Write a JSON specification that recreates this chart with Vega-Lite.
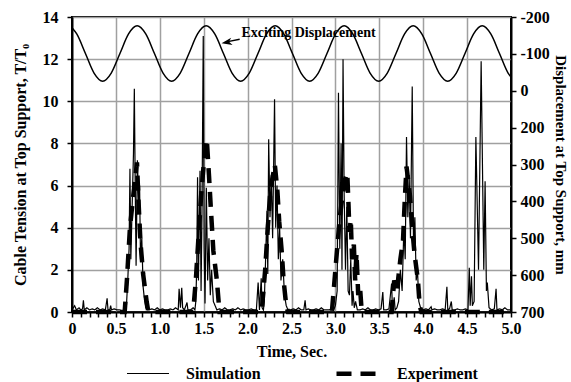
{
  "$schema": "https://vega.github.io/schema/vega-lite/v6.json",
  "width": 439,
  "height": 295,
  "autosize": {"type": "none"},
  "padding": {"left": 72, "top": 17, "right": 60, "bottom": 70},
  "background": "white",
  "datasets": {
    "sine": [
      {"t": 0, "disp": -171}, {"t": 0.054, "disp": -154}, {"t": 0.153, "disp": -101}, {"t": 0.251, "disp": -48},
      {"t": 0.349, "disp": -26}, {"t": 0.447, "disp": -48}, {"t": 0.546, "disp": -101}, {"t": 0.644, "disp": -154},
      {"t": 0.742, "disp": -176}, {"t": 0.84, "disp": -154}, {"t": 0.939, "disp": -101}, {"t": 1.037, "disp": -48},
      {"t": 1.135, "disp": -26}, {"t": 1.233, "disp": -48}, {"t": 1.332, "disp": -101}, {"t": 1.43, "disp": -154},
      {"t": 1.528, "disp": -176}, {"t": 1.626, "disp": -154}, {"t": 1.725, "disp": -101}, {"t": 1.823, "disp": -48},
      {"t": 1.921, "disp": -26}, {"t": 2.019, "disp": -48}, {"t": 2.118, "disp": -101}, {"t": 2.216, "disp": -154},
      {"t": 2.314, "disp": -176}, {"t": 2.412, "disp": -154}, {"t": 2.511, "disp": -101}, {"t": 2.609, "disp": -48},
      {"t": 2.707, "disp": -26}, {"t": 2.805, "disp": -48}, {"t": 2.904, "disp": -101}, {"t": 3.002, "disp": -154},
      {"t": 3.1, "disp": -176}, {"t": 3.198, "disp": -154}, {"t": 3.297, "disp": -101}, {"t": 3.395, "disp": -48},
      {"t": 3.493, "disp": -26}, {"t": 3.591, "disp": -48}, {"t": 3.69, "disp": -101}, {"t": 3.788, "disp": -154},
      {"t": 3.886, "disp": -176}, {"t": 3.984, "disp": -154}, {"t": 4.083, "disp": -101}, {"t": 4.181, "disp": -48},
      {"t": 4.279, "disp": -26}, {"t": 4.377, "disp": -48}, {"t": 4.476, "disp": -101}, {"t": 4.574, "disp": -154},
      {"t": 4.672, "disp": -176}, {"t": 4.77, "disp": -154}, {"t": 4.869, "disp": -101}, {"t": 4.967, "disp": -48},
      {"t": 5.0, "disp": -37}
    ],
    "tension": [
      {"series": "Simulation", "t": 0.0, "v": 0.1}, {"series": "Simulation", "t": 0.03, "v": 0.3}, {"series": "Simulation", "t": 0.05, "v": 0.1},
      {"series": "Simulation", "t": 0.08, "v": 0.2}, {"series": "Simulation", "t": 0.1, "v": 0.1}, {"series": "Simulation", "t": 0.12, "v": 0.15},
      {"series": "Simulation", "t": 0.13, "v": 0.55}, {"series": "Simulation", "t": 0.14, "v": 0.1}, {"series": "Simulation", "t": 0.17, "v": 0.2},
      {"series": "Simulation", "t": 0.2, "v": 0.1}, {"series": "Simulation", "t": 0.23, "v": 0.15}, {"series": "Simulation", "t": 0.26, "v": 0.1},
      {"series": "Simulation", "t": 0.29, "v": 0.2}, {"series": "Simulation", "t": 0.32, "v": 0.1}, {"series": "Simulation", "t": 0.35, "v": 0.15},
      {"series": "Simulation", "t": 0.38, "v": 0.1}, {"series": "Simulation", "t": 0.4, "v": 0.65}, {"series": "Simulation", "t": 0.41, "v": 0.1},
      {"series": "Simulation", "t": 0.43, "v": 0.1}, {"series": "Simulation", "t": 0.44, "v": 0.3}, {"series": "Simulation", "t": 0.45, "v": 0.1},
      {"series": "Simulation", "t": 0.48, "v": 0.15}, {"series": "Simulation", "t": 0.51, "v": 0.1}, {"series": "Simulation", "t": 0.54, "v": 0.1},
      {"series": "Simulation", "t": 0.57, "v": 0.05}, {"series": "Simulation", "t": 0.6, "v": 0.1}, {"series": "Simulation", "t": 0.62, "v": 0.3},
      {"series": "Simulation", "t": 0.635, "v": 1.5}, {"series": "Simulation", "t": 0.65, "v": 3.0}, {"series": "Simulation", "t": 0.66, "v": 6.8},
      {"series": "Simulation", "t": 0.67, "v": 2.5}, {"series": "Simulation", "t": 0.685, "v": 5.0}, {"series": "Simulation", "t": 0.7, "v": 7.5},
      {"series": "Simulation", "t": 0.71, "v": 10.6}, {"series": "Simulation", "t": 0.72, "v": 6.0}, {"series": "Simulation", "t": 0.73, "v": 2.2},
      {"series": "Simulation", "t": 0.745, "v": 7.2}, {"series": "Simulation", "t": 0.76, "v": 5.0}, {"series": "Simulation", "t": 0.77, "v": 6.0},
      {"series": "Simulation", "t": 0.78, "v": 2.5}, {"series": "Simulation", "t": 0.795, "v": 3.5}, {"series": "Simulation", "t": 0.81, "v": 1.2},
      {"series": "Simulation", "t": 0.825, "v": 0.6}, {"series": "Simulation", "t": 0.84, "v": 0.2}, {"series": "Simulation", "t": 0.86, "v": 0.1},
      {"series": "Simulation", "t": 0.88, "v": 0.1}, {"series": "Simulation", "t": 0.91, "v": 0.15}, {"series": "Simulation", "t": 0.94, "v": 0.1},
      {"series": "Simulation", "t": 0.97, "v": 0.2}, {"series": "Simulation", "t": 1.0, "v": 0.1}, {"series": "Simulation", "t": 1.03, "v": 0.15},
      {"series": "Simulation", "t": 1.06, "v": 0.1}, {"series": "Simulation", "t": 1.09, "v": 0.1}, {"series": "Simulation", "t": 1.12, "v": 0.15},
      {"series": "Simulation", "t": 1.15, "v": 0.1}, {"series": "Simulation", "t": 1.18, "v": 0.2}, {"series": "Simulation", "t": 1.21, "v": 0.1},
      {"series": "Simulation", "t": 1.22, "v": 1.1}, {"series": "Simulation", "t": 1.235, "v": 0.2}, {"series": "Simulation", "t": 1.25, "v": 1.15},
      {"series": "Simulation", "t": 1.26, "v": 0.2}, {"series": "Simulation", "t": 1.28, "v": 0.1}, {"series": "Simulation", "t": 1.31, "v": 0.45},
      {"series": "Simulation", "t": 1.32, "v": 0.1}, {"series": "Simulation", "t": 1.35, "v": 0.1}, {"series": "Simulation", "t": 1.38, "v": 0.2},
      {"series": "Simulation", "t": 1.4, "v": 0.1}, {"series": "Simulation", "t": 1.41, "v": 0.5}, {"series": "Simulation", "t": 1.42, "v": 2.0},
      {"series": "Simulation", "t": 1.43, "v": 6.4}, {"series": "Simulation", "t": 1.44, "v": 1.5}, {"series": "Simulation", "t": 1.458, "v": 6.7},
      {"series": "Simulation", "t": 1.47, "v": 1.0}, {"series": "Simulation", "t": 1.48, "v": 4.5}, {"series": "Simulation", "t": 1.495, "v": 13.1},
      {"series": "Simulation", "t": 1.505, "v": 3.0}, {"series": "Simulation", "t": 1.515, "v": 0.4}, {"series": "Simulation", "t": 1.53, "v": 5.9},
      {"series": "Simulation", "t": 1.545, "v": 1.5}, {"series": "Simulation", "t": 1.56, "v": 3.5}, {"series": "Simulation", "t": 1.575, "v": 0.8},
      {"series": "Simulation", "t": 1.59, "v": 2.0}, {"series": "Simulation", "t": 1.61, "v": 0.5}, {"series": "Simulation", "t": 1.63, "v": 0.3},
      {"series": "Simulation", "t": 1.65, "v": 0.1}, {"series": "Simulation", "t": 1.68, "v": 0.15}, {"series": "Simulation", "t": 1.71, "v": 0.1},
      {"series": "Simulation", "t": 1.74, "v": 0.2}, {"series": "Simulation", "t": 1.77, "v": 0.1}, {"series": "Simulation", "t": 1.8, "v": 0.1},
      {"series": "Simulation", "t": 1.83, "v": 0.15}, {"series": "Simulation", "t": 1.86, "v": 0.1}, {"series": "Simulation", "t": 1.89, "v": 0.2},
      {"series": "Simulation", "t": 1.92, "v": 0.1}, {"series": "Simulation", "t": 1.95, "v": 0.15}, {"series": "Simulation", "t": 1.98, "v": 0.1},
      {"series": "Simulation", "t": 2.01, "v": 0.1}, {"series": "Simulation", "t": 2.04, "v": 0.15}, {"series": "Simulation", "t": 2.07, "v": 0.1},
      {"series": "Simulation", "t": 2.1, "v": 0.1}, {"series": "Simulation", "t": 2.12, "v": 1.4}, {"series": "Simulation", "t": 2.135, "v": 0.1},
      {"series": "Simulation", "t": 2.155, "v": 1.6}, {"series": "Simulation", "t": 2.165, "v": 0.2}, {"series": "Simulation", "t": 2.18, "v": 0.1},
      {"series": "Simulation", "t": 2.19, "v": 0.5}, {"series": "Simulation", "t": 2.205, "v": 2.5}, {"series": "Simulation", "t": 2.22, "v": 4.8},
      {"series": "Simulation", "t": 2.23, "v": 1.8}, {"series": "Simulation", "t": 2.24, "v": 8.2}, {"series": "Simulation", "t": 2.255, "v": 4.5},
      {"series": "Simulation", "t": 2.27, "v": 6.5}, {"series": "Simulation", "t": 2.285, "v": 3.5}, {"series": "Simulation", "t": 2.307, "v": 10.1},
      {"series": "Simulation", "t": 2.32, "v": 4.0}, {"series": "Simulation", "t": 2.335, "v": 6.0}, {"series": "Simulation", "t": 2.35, "v": 2.5},
      {"series": "Simulation", "t": 2.365, "v": 4.0}, {"series": "Simulation", "t": 2.38, "v": 1.5}, {"series": "Simulation", "t": 2.4, "v": 2.5},
      {"series": "Simulation", "t": 2.42, "v": 0.8}, {"series": "Simulation", "t": 2.44, "v": 0.3}, {"series": "Simulation", "t": 2.46, "v": 0.1},
      {"series": "Simulation", "t": 2.49, "v": 0.1}, {"series": "Simulation", "t": 2.52, "v": 0.15}, {"series": "Simulation", "t": 2.55, "v": 0.1},
      {"series": "Simulation", "t": 2.58, "v": 0.2}, {"series": "Simulation", "t": 2.61, "v": 0.1}, {"series": "Simulation", "t": 2.64, "v": 0.1},
      {"series": "Simulation", "t": 2.655, "v": 0.55}, {"series": "Simulation", "t": 2.665, "v": 0.1}, {"series": "Simulation", "t": 2.69, "v": 0.15},
      {"series": "Simulation", "t": 2.72, "v": 0.1}, {"series": "Simulation", "t": 2.75, "v": 0.1}, {"series": "Simulation", "t": 2.78, "v": 0.15},
      {"series": "Simulation", "t": 2.81, "v": 0.1}, {"series": "Simulation", "t": 2.84, "v": 0.2}, {"series": "Simulation", "t": 2.87, "v": 0.1},
      {"series": "Simulation", "t": 2.9, "v": 0.1}, {"series": "Simulation", "t": 2.93, "v": 0.1}, {"series": "Simulation", "t": 2.96, "v": 0.15},
      {"series": "Simulation", "t": 2.98, "v": 0.1}, {"series": "Simulation", "t": 3.0, "v": 0.3}, {"series": "Simulation", "t": 3.02, "v": 1.0},
      {"series": "Simulation", "t": 3.035, "v": 10.4}, {"series": "Simulation", "t": 3.05, "v": 3.0}, {"series": "Simulation", "t": 3.065, "v": 8.0},
      {"series": "Simulation", "t": 3.075, "v": 2.0}, {"series": "Simulation", "t": 3.087, "v": 12.0}, {"series": "Simulation", "t": 3.1, "v": 5.5},
      {"series": "Simulation", "t": 3.115, "v": 2.0}, {"series": "Simulation", "t": 3.13, "v": 5.0}, {"series": "Simulation", "t": 3.145, "v": 1.0},
      {"series": "Simulation", "t": 3.16, "v": 0.8}, {"series": "Simulation", "t": 3.175, "v": 2.5}, {"series": "Simulation", "t": 3.19, "v": 0.3},
      {"series": "Simulation", "t": 3.2, "v": 1.0}, {"series": "Simulation", "t": 3.215, "v": 0.2}, {"series": "Simulation", "t": 3.23, "v": 0.5},
      {"series": "Simulation", "t": 3.25, "v": 0.1}, {"series": "Simulation", "t": 3.28, "v": 0.1}, {"series": "Simulation", "t": 3.31, "v": 0.15},
      {"series": "Simulation", "t": 3.34, "v": 0.1}, {"series": "Simulation", "t": 3.37, "v": 0.2}, {"series": "Simulation", "t": 3.4, "v": 0.1},
      {"series": "Simulation", "t": 3.43, "v": 0.1}, {"series": "Simulation", "t": 3.46, "v": 0.15}, {"series": "Simulation", "t": 3.49, "v": 0.1},
      {"series": "Simulation", "t": 3.52, "v": 0.15}, {"series": "Simulation", "t": 3.54, "v": 0.95}, {"series": "Simulation", "t": 3.55, "v": 0.1},
      {"series": "Simulation", "t": 3.58, "v": 0.1}, {"series": "Simulation", "t": 3.61, "v": 0.15}, {"series": "Simulation", "t": 3.64, "v": 1.35},
      {"series": "Simulation", "t": 3.65, "v": 0.1}, {"series": "Simulation", "t": 3.67, "v": 0.7}, {"series": "Simulation", "t": 3.68, "v": 0.1},
      {"series": "Simulation", "t": 3.7, "v": 0.2}, {"series": "Simulation", "t": 3.72, "v": 0.5}, {"series": "Simulation", "t": 3.74, "v": 2.0},
      {"series": "Simulation", "t": 3.76, "v": 1.0}, {"series": "Simulation", "t": 3.78, "v": 4.0}, {"series": "Simulation", "t": 3.795, "v": 2.5},
      {"series": "Simulation", "t": 3.81, "v": 8.3}, {"series": "Simulation", "t": 3.825, "v": 4.5}, {"series": "Simulation", "t": 3.84, "v": 6.5},
      {"series": "Simulation", "t": 3.855, "v": 3.5}, {"series": "Simulation", "t": 3.875, "v": 10.7}, {"series": "Simulation", "t": 3.89, "v": 3.0},
      {"series": "Simulation", "t": 3.905, "v": 4.5}, {"series": "Simulation", "t": 3.92, "v": 1.5}, {"series": "Simulation", "t": 3.935, "v": 2.0},
      {"series": "Simulation", "t": 3.95, "v": 0.5}, {"series": "Simulation", "t": 3.97, "v": 0.2}, {"series": "Simulation", "t": 4.0, "v": 0.1},
      {"series": "Simulation", "t": 4.03, "v": 0.15}, {"series": "Simulation", "t": 4.06, "v": 0.1}, {"series": "Simulation", "t": 4.09, "v": 0.25},
      {"series": "Simulation", "t": 4.1, "v": 0.1}, {"series": "Simulation", "t": 4.13, "v": 0.15}, {"series": "Simulation", "t": 4.16, "v": 0.1},
      {"series": "Simulation", "t": 4.19, "v": 0.1}, {"series": "Simulation", "t": 4.22, "v": 0.15}, {"series": "Simulation", "t": 4.25, "v": 0.1},
      {"series": "Simulation", "t": 4.27, "v": 1.2}, {"series": "Simulation", "t": 4.28, "v": 0.1}, {"series": "Simulation", "t": 4.3, "v": 0.15},
      {"series": "Simulation", "t": 4.32, "v": 0.5}, {"series": "Simulation", "t": 4.33, "v": 0.1}, {"series": "Simulation", "t": 4.36, "v": 0.1},
      {"series": "Simulation", "t": 4.39, "v": 0.15}, {"series": "Simulation", "t": 4.42, "v": 0.1}, {"series": "Simulation", "t": 4.45, "v": 0.1},
      {"series": "Simulation", "t": 4.48, "v": 0.15}, {"series": "Simulation", "t": 4.51, "v": 0.1}, {"series": "Simulation", "t": 4.525, "v": 2.1},
      {"series": "Simulation", "t": 4.535, "v": 0.3}, {"series": "Simulation", "t": 4.55, "v": 1.7}, {"series": "Simulation", "t": 4.56, "v": 0.3},
      {"series": "Simulation", "t": 4.58, "v": 0.5}, {"series": "Simulation", "t": 4.6, "v": 8.3}, {"series": "Simulation", "t": 4.63, "v": 2.0},
      {"series": "Simulation", "t": 4.66, "v": 11.9}, {"series": "Simulation", "t": 4.69, "v": 2.0}, {"series": "Simulation", "t": 4.705, "v": 6.2},
      {"series": "Simulation", "t": 4.72, "v": 1.0}, {"series": "Simulation", "t": 4.73, "v": 1.4}, {"series": "Simulation", "t": 4.75, "v": 0.2},
      {"series": "Simulation", "t": 4.78, "v": 0.1}, {"series": "Simulation", "t": 4.81, "v": 0.15}, {"series": "Simulation", "t": 4.83, "v": 1.1},
      {"series": "Simulation", "t": 4.84, "v": 0.1}, {"series": "Simulation", "t": 4.87, "v": 0.15}, {"series": "Simulation", "t": 4.9, "v": 0.1},
      {"series": "Simulation", "t": 4.93, "v": 0.2}, {"series": "Simulation", "t": 4.96, "v": 0.1}, {"series": "Simulation", "t": 5.0, "v": 0.1},
      {"series": "Experiment", "t": 0.0, "v": 0}, {"series": "Experiment", "t": 0.6, "v": 0}, {"series": "Experiment", "t": 0.625, "v": 1.5},
      {"series": "Experiment", "t": 0.66, "v": 4.0}, {"series": "Experiment", "t": 0.7, "v": 5.6}, {"series": "Experiment", "t": 0.727, "v": 6.6},
      {"series": "Experiment", "t": 0.74, "v": 7.1}, {"series": "Experiment", "t": 0.757, "v": 5.3}, {"series": "Experiment", "t": 0.78, "v": 3.3},
      {"series": "Experiment", "t": 0.81, "v": 1.8}, {"series": "Experiment", "t": 0.85, "v": 0.5}, {"series": "Experiment", "t": 0.87, "v": 0},
      {"series": "Experiment", "t": 1.38, "v": 0}, {"series": "Experiment", "t": 1.41, "v": 1.5}, {"series": "Experiment", "t": 1.44, "v": 3.5},
      {"series": "Experiment", "t": 1.47, "v": 5.5}, {"series": "Experiment", "t": 1.5, "v": 7.0}, {"series": "Experiment", "t": 1.535, "v": 8.2},
      {"series": "Experiment", "t": 1.56, "v": 6.5}, {"series": "Experiment", "t": 1.58, "v": 5.0}, {"series": "Experiment", "t": 1.61, "v": 2.9},
      {"series": "Experiment", "t": 1.65, "v": 1.5}, {"series": "Experiment", "t": 1.68, "v": 0}, {"series": "Experiment", "t": 2.16, "v": 0},
      {"series": "Experiment", "t": 2.2, "v": 2.0}, {"series": "Experiment", "t": 2.23, "v": 4.0}, {"series": "Experiment", "t": 2.26, "v": 5.8},
      {"series": "Experiment", "t": 2.31, "v": 7.0}, {"series": "Experiment", "t": 2.34, "v": 5.7}, {"series": "Experiment", "t": 2.36, "v": 4.3},
      {"series": "Experiment", "t": 2.39, "v": 2.8}, {"series": "Experiment", "t": 2.41, "v": 1.5}, {"series": "Experiment", "t": 2.44, "v": 0.3},
      {"series": "Experiment", "t": 2.46, "v": 0}, {"series": "Experiment", "t": 2.96, "v": 0}, {"series": "Experiment", "t": 2.99, "v": 1.5},
      {"series": "Experiment", "t": 3.02, "v": 3.0}, {"series": "Experiment", "t": 3.05, "v": 4.5}, {"series": "Experiment", "t": 3.08, "v": 5.5},
      {"series": "Experiment", "t": 3.11, "v": 6.3}, {"series": "Experiment", "t": 3.135, "v": 6.6}, {"series": "Experiment", "t": 3.15, "v": 5.0},
      {"series": "Experiment", "t": 3.16, "v": 3.8}, {"series": "Experiment", "t": 3.175, "v": 4.4}, {"series": "Experiment", "t": 3.19, "v": 2.5},
      {"series": "Experiment", "t": 3.21, "v": 3.2}, {"series": "Experiment", "t": 3.225, "v": 1.5}, {"series": "Experiment", "t": 3.24, "v": 2.8},
      {"series": "Experiment", "t": 3.26, "v": 0.8}, {"series": "Experiment", "t": 3.28, "v": 1.2}, {"series": "Experiment", "t": 3.3, "v": 0},
      {"series": "Experiment", "t": 3.64, "v": 0}, {"series": "Experiment", "t": 3.67, "v": 1.5}, {"series": "Experiment", "t": 3.7, "v": 1.0},
      {"series": "Experiment", "t": 3.74, "v": 2.5}, {"series": "Experiment", "t": 3.77, "v": 3.4}, {"series": "Experiment", "t": 3.79, "v": 5.3},
      {"series": "Experiment", "t": 3.81, "v": 6.9}, {"series": "Experiment", "t": 3.85, "v": 5.5}, {"series": "Experiment", "t": 3.875, "v": 4.0},
      {"series": "Experiment", "t": 3.9, "v": 2.8}, {"series": "Experiment", "t": 3.94, "v": 1.5}, {"series": "Experiment", "t": 3.96, "v": 0.3},
      {"series": "Experiment", "t": 3.98, "v": 0}, {"series": "Experiment", "t": 5.0, "v": 0}
    ],
    "note": [{"t": 1.93, "v": 13.24, "label": "Exciting Displacement"}],
    "arrow": [{"t": 1.91, "v": 12.94}, {"t": 1.76, "v": 12.82}],
    "head": [{"t": 1.762, "v": 12.8}]
  },
  "encoding": {
    "x": {
      "field": "t", "type": "quantitative",
      "scale": {"domain": [0, 5], "nice": false, "zero": false},
      "axis": {
        "title": "Time, Sec.",
        "values": [0,0.1,0.2,0.3,0.4,0.5,0.6,0.7,0.8,0.9,1,1.1,1.2,1.3,1.4,1.5,1.6,1.7,1.8,1.9,2,2.1,2.2,2.3,2.4,2.5,2.6,2.7,2.8,2.9,3,3.1,3.2,3.3,3.4,3.5,3.6,3.7,3.8,3.9,4,4.1,4.2,4.3,4.4,4.5,4.6,4.7,4.8,4.9,5],
        "labelExpr": "abs(datum.value*2 - round(datum.value*2)) < 0.001 ? (datum.value == 0 ? '0' : format(datum.value, '.1f')) : ''",
        "labelOverlap": false,
        "labelFlush": false,
        "grid": true,
        "gridOpacity": {"condition": {"test": "abs(datum.value*2 - round(datum.value*2)) < 0.001 && datum.value > 0 && datum.value < 5", "value": 1}, "value": 0},
        "tickSize": 5,
        "labelPadding": 3,
        "titlePadding": 7
      }
    }
  },
  "layer": [
    {
      "data": {"name": "sine"},
      "mark": {"type": "line", "color": "black", "strokeWidth": 1.5, "interpolate": "monotone"},
      "encoding": {
        "y": {
          "field": "disp", "type": "quantitative",
          "scale": {"domain": [-200, 600], "reverse": true, "nice": false, "zero": false},
          "axis": {
            "orient": "right",
            "title": "Displacement at Top Support, mm",
            "values": [-200, -100, 0, 100, 200, 300, 400, 500, 600],
            "labelExpr": "datum.value >= 100 ? toString(datum.value + 100) : toString(datum.value)",
            "grid": false,
            "tickSize": 5,
            "labelPadding": 4,
            "titlePadding": 3,
            "titleFontSize": 15
          }
        }
      }
    },
    {
      "layer": [
        {
          "data": {"name": "tension"},
          "mark": {"type": "line", "color": "black", "strokeCap": "butt", "strokeJoin": "miter"},
          "encoding": {
            "y": {
              "field": "v", "type": "quantitative",
              "scale": {"domain": [0, 14], "nice": false},
              "axis": {
                "title": "Cable Tension at Top Support, T/T₀",
                "values": [0, 2, 4, 6, 8, 10, 12, 14],
                "grid": true,
                "tickSize": 5,
                "labelPadding": 9,
                "titlePadding": 14
              }
            },
            "strokeDash": {
              "field": "series", "type": "nominal",
              "scale": {"domain": ["Simulation", "Experiment"], "range": [[1, 0], [15, 9]]},
              "legend": {
                "orient": "none", "legendX": 54, "legendY": 333, "direction": "horizontal",
                "title": null, "symbolType": "stroke", "symbolSize": 1764, "symbolStrokeColor": "black",
                "labelFont": "Liberation Serif", "labelFontSize": 16, "labelFontWeight": "bold", "labelColor": "black",
                "labelOffset": 16, "columnPadding": 66, "padding": 0
              }
            },
            "strokeWidth": {
              "field": "series", "type": "nominal",
              "scale": {"domain": ["Simulation", "Experiment"], "range": [1.2, 4.5]},
              "legend": {
                "orient": "none", "legendX": 54, "legendY": 333, "direction": "horizontal",
                "title": null, "symbolType": "stroke", "symbolSize": 1764, "symbolStrokeColor": "black",
                "labelFont": "Liberation Serif", "labelFontSize": 16, "labelFontWeight": "bold", "labelColor": "black",
                "labelOffset": 16, "columnPadding": 66, "padding": 0
              }
            }
          }
        },
        {
          "data": {"name": "note"},
          "mark": {"type": "text", "align": "left", "baseline": "middle", "font": "Liberation Serif", "fontSize": 14, "fontWeight": "bold", "color": "black"},
          "encoding": {"y": {"field": "v", "type": "quantitative"}, "text": {"field": "label"}}
        },
        {
          "data": {"name": "arrow"},
          "mark": {"type": "line", "color": "black", "strokeWidth": 1.5},
          "encoding": {"y": {"field": "v", "type": "quantitative"}}
        },
        {
          "data": {"name": "head"},
          "mark": {"type": "point", "shape": "M-1,0L1,-0.7L0.45,0L1,0.7Z", "filled": true, "color": "black", "size": 110, "angle": 349, "opacity": 1},
          "encoding": {"y": {"field": "v", "type": "quantitative"}}
        }
      ]
    }
  ],
  "resolve": {"scale": {"y": "independent"}},
  "config": {
    "font": "Liberation Serif",
    "axis": {
      "labelFont": "Liberation Serif", "labelFontWeight": "bold", "labelFontSize": 16, "labelColor": "black",
      "titleFont": "Liberation Serif", "titleFontWeight": "bold", "titleFontSize": 16, "titleColor": "black",
      "domainColor": "black", "domainWidth": 2, "tickColor": "black", "tickWidth": 1.5,
      "gridColor": "#a0a0a0", "gridWidth": 1.5
    },
    "view": {"stroke": "black", "strokeWidth": 2}
  }
}
